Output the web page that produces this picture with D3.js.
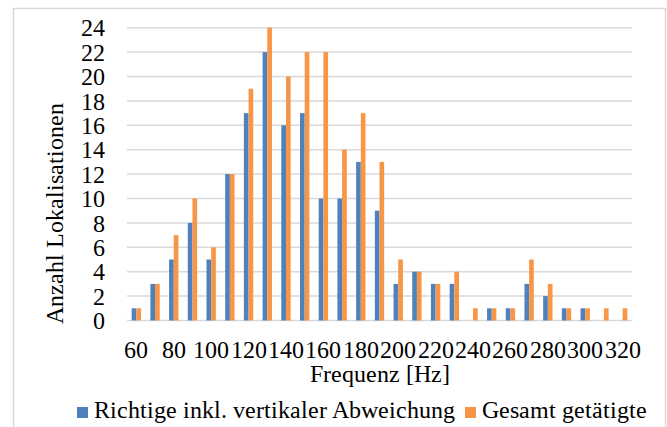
<!DOCTYPE html>
<html>
<head>
<meta charset="utf-8">
<script src="https://cdn.jsdelivr.net/npm/d3@7"></script>
<style>
  @font-face { font-family: "ChartSerif"; src: local("Liberation Serif"), local("LiberationSerif"), local("Liberation Serif Regular"), local("LiberationSerif-Regular"); }
  html, body { margin: 0; padding: 0; background: #fff; }
  svg text { font-family: "ChartSerif", "Liberation Serif", Times, serif; font-size: 24px; fill: #000; }
</style>
</head>
<body>
<svg id="chart" width="667" height="427"></svg>
<script>
// Frequency bins in Hz
const categories = [60, 70, 80, 90, 100, 110, 120, 130, 140, 150, 160, 170, 180, 190,
                    200, 210, 220, 230, 240, 250, 260, 270, 280, 290, 300, 310, 320];
// Correct localisations incl. vertical deviation
const richtige = [1, 3, 5, 8, 5, 12, 17, 22, 16, 17, 10, 10, 13, 9,
                  3, 4, 3, 3, 0, 1, 1, 3, 2, 1, 1, 0, 0];
// All localisations made
const gesamt   = [1, 3, 7, 10, 6, 12, 19, 24, 20, 22, 22, 14, 17, 13,
                  5, 4, 3, 4, 1, 1, 1, 5, 3, 1, 1, 1, 1];
const seriesNames = ["Richtige inkl. vertikaler Abweichung", "Gesamt getätigte"];
const yTicks = [0, 2, 4, 6, 8, 10, 12, 14, 16, 18, 20, 22, 24];
const xTickLabels = [60, 80, 100, 120, 140, 160, 180, 200, 220, 240, 260, 280, 300, 320];
const colors = ["#4F81BD", "#F79646"];

const svg = d3.select("#chart");
const W = 667, H = 427;
const plot = { left: 127, right: 632, top: 27.7, bottom: 320.5 };

// chart frame
svg.append("rect")
  .attr("x", 13.5).attr("y", 8.5)
  .attr("width", W - 15).attr("height", H + 10)
  .attr("fill", "none").attr("stroke", "#d9d9d9").attr("stroke-width", 1.5);

const x = d3.scaleBand().domain(categories)
  .range([plot.left, plot.right]).paddingInner(0.5).paddingOuter(0.25);
const xs = d3.scaleBand().domain([0, 1]).range([0, x.bandwidth()]);
const y = d3.scaleLinear().domain([0, 24]).range([plot.bottom, plot.top]);

// horizontal gridlines
svg.append("g").selectAll("line").data(yTicks).join("line")
  .attr("x1", plot.left).attr("x2", plot.right)
  .attr("y1", d => y(d)).attr("y2", d => y(d))
  .attr("stroke", "#d9d9d9").attr("stroke-width", 1.5);

// y axis labels
const yAxis = d3.axisLeft(y).tickValues(yTicks).tickSize(0).tickPadding(0);
svg.append("g").attr("transform", `translate(${plot.left - 22},0)`).call(yAxis)
  .call(g => g.attr("font-family", null).attr("font-size", null))
  .call(g => g.select(".domain").remove())
  .call(g => g.selectAll("text").attr("dy", "0.34em"));

// bars
const series = [richtige, gesamt];
const groups = svg.append("g").selectAll("g").data(categories).join("g")
  .attr("transform", d => `translate(${x(d)},0)`);
groups.selectAll("rect")
  .data((d, i) => series.map((s, k) => ({ k, v: s[i] })))
  .join("rect")
  .attr("x", d => xs(d.k))
  .attr("width", xs.bandwidth())
  .attr("y", d => y(d.v))
  .attr("height", d => y(0) - y(d.v))
  .attr("fill", d => colors[d.k]);

// x axis labels (every second bin)
const xAxis = d3.axisBottom(x).tickValues(xTickLabels).tickSize(0).tickPadding(0);
svg.append("g").attr("transform", `translate(0,${plot.bottom})`).call(xAxis)
  .call(g => g.attr("font-family", null).attr("font-size", null))
  .call(g => g.select(".domain").remove())
  .call(g => g.selectAll("text").attr("dy", 0).attr("y", 37));

// axis titles
svg.append("text")
  .attr("x", (plot.left + plot.right) / 2).attr("y", 382)
  .attr("text-anchor", "middle")
  .text("Frequenz [Hz]");
svg.append("text")
  .attr("transform", "translate(63,213) rotate(-90)")
  .attr("text-anchor", "middle")
  .text("Anzahl Lokalisationen");

// legend
const legendItems = [{ x: 77, name: seriesNames[0], c: colors[0] },
                     { x: 465, name: seriesNames[1], c: colors[1] }];
const lg = svg.append("g").selectAll("g").data(legendItems).join("g")
  .attr("transform", d => `translate(${d.x},407)`);
lg.append("rect").attr("width", 11).attr("height", 11).attr("fill", d => d.c);
lg.append("text").attr("x", 17).attr("y", 11).text(d => d.name);
</script>
</body>
</html>
